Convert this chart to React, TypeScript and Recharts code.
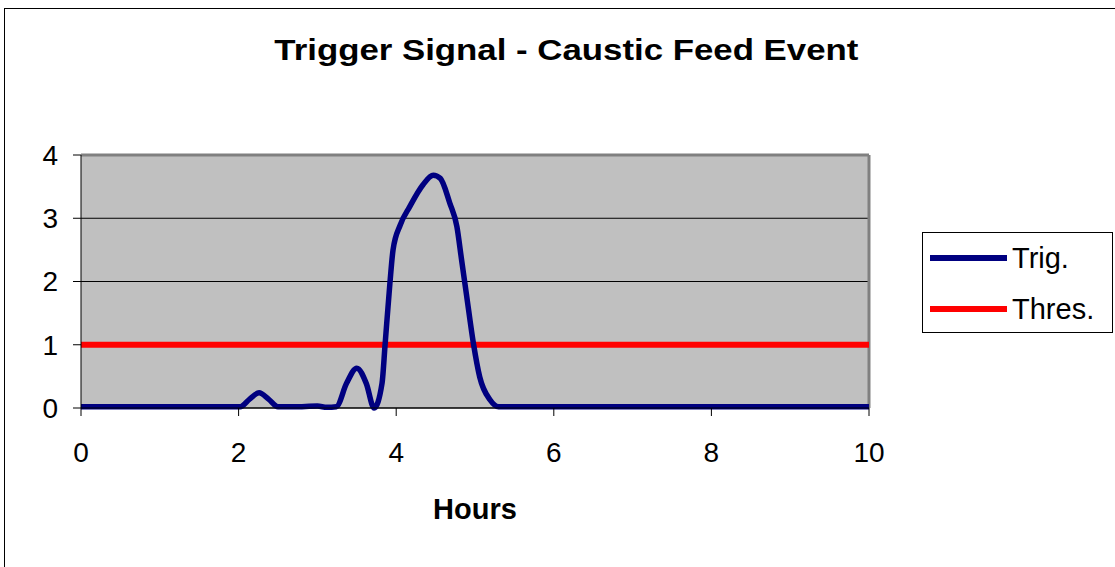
import React from 'react';
import { LineChart, Line, XAxis, YAxis, CartesianGrid, ReferenceLine } from 'recharts';

const hours = [0, 0.5, 1, 1.5, 1.9, 2.02, 2.14, 2.26, 2.38, 2.5, 2.7, 3.0, 3.12, 3.24, 3.37, 3.5, 3.62, 3.72, 3.82, 3.86, 3.92, 3.96, 4.05, 4.17, 4.34, 4.47, 4.56, 4.68, 4.77, 4.83, 4.89, 4.98, 5.06, 5.19, 5.3, 5.5, 6, 7, 8, 9, 10];
const trig = [0.02, 0.02, 0.02, 0.02, 0.02, 0.02, 0.14, 0.24, 0.14, 0.02, 0.02, 0.03, 0.01, 0.02, 0.39, 0.63, 0.39, 0.0, 0.39, 1.02, 1.97, 2.5, 2.89, 3.18, 3.53, 3.68, 3.63, 3.24, 2.87, 2.34, 1.81, 1.02, 0.49, 0.13, 0.02, 0.02, 0.02, 0.02, 0.02, 0.02, 0.02];
const thresValue = 1;
const xTicks = [0, 2, 4, 6, 8, 10];
const yTicks = [0, 1, 2, 3, 4];
const seriesNames = ['Trig.', 'Thres.'];
const title = 'Trigger Signal - Caustic Feed Event';
const xLabel = 'Hours';

const data = hours.map((h, i) => ({ hour: h, trig: trig[i], thres: thresValue }));

const FONT = '"Liberation Sans", Arial, sans-serif';
const BLUE = '#000080';
const RED = '#FF0000';

export default function App() {
  return (
    <div style={{ position: 'absolute', left: 0, top: 0, width: 1115, height: 567, overflow: 'hidden', background: '#fff', fontFamily: FONT }}>
      <div style={{ position: 'absolute', left: 4, top: 8, width: 1200, height: 700, border: '1px solid #000' }} />
      <div style={{ position: 'absolute', left: 66.5, top: 36, width: 1000, textAlign: 'center', fontSize: 29, lineHeight: '29px', fontWeight: 'bold', color: '#000' }}>
        <span style={{ display: 'inline-block', transform: 'scaleX(1.2)', transformOrigin: 'center', whiteSpace: 'nowrap' }}>{title}</span>
      </div>
      <div style={{ position: 'absolute', left: 0, top: 0 }}>
        <LineChart width={1115} height={567} data={data} margin={{ top: 155, right: 246, bottom: 99, left: 21 }}>
          <CartesianGrid vertical={false} stroke="#000" strokeWidth={1} fill="#C0C0C0" fillOpacity={1} />
          <ReferenceLine y={4} stroke="#808080" strokeWidth={3} />
          <ReferenceLine x={10} stroke="#808080" strokeWidth={3} />
          <XAxis
            type="number"
            dataKey="hour"
            domain={[0, 10]}
            ticks={xTicks}
            height={60}
            tickSize={8}
            tickMargin={26}
            stroke="#000"
            axisLine={{ stroke: '#000' }}
            tickLine={{ stroke: '#000' }}
            tick={{ fill: '#000', fontSize: 28, fontFamily: FONT }}
            label={{ value: xLabel, position: 'bottom', offset: 30, fill: '#000', fontSize: 29, fontWeight: 'bold', fontFamily: FONT }}
          />
          <YAxis
            type="number"
            domain={[0, 4]}
            ticks={yTicks}
            width={60}
            tickSize={8}
            tickMargin={15}
            stroke="#000"
            axisLine={{ stroke: '#000' }}
            tickLine={{ stroke: '#000' }}
            tick={{ fill: '#000', fontSize: 28, fontFamily: FONT }}
          />
          <Line type="linear" dataKey="thres" name={seriesNames[1]} stroke={RED} strokeWidth={6} dot={false} isAnimationActive={false} />
          <Line type="monotone" dataKey="trig" name={seriesNames[0]} stroke={BLUE} strokeWidth={5.5} dot={false} isAnimationActive={false} />
        </LineChart>
      </div>
      <div style={{ position: 'absolute', left: 922, top: 232, width: 189, height: 99, border: '1px solid #000', background: '#fff' }}>
        {[BLUE, RED].map((c, i) => (
          <div key={i} style={{ position: 'absolute', left: 7, top: 8 + i * 51, height: 34, display: 'flex', alignItems: 'center' }}>
            <div style={{ width: 77, height: 6, background: c }} />
            <span style={{ marginLeft: 5, fontSize: 29, lineHeight: '34px', color: '#000' }}>{seriesNames[i]}</span>
          </div>
        ))}
      </div>
    </div>
  );
}
